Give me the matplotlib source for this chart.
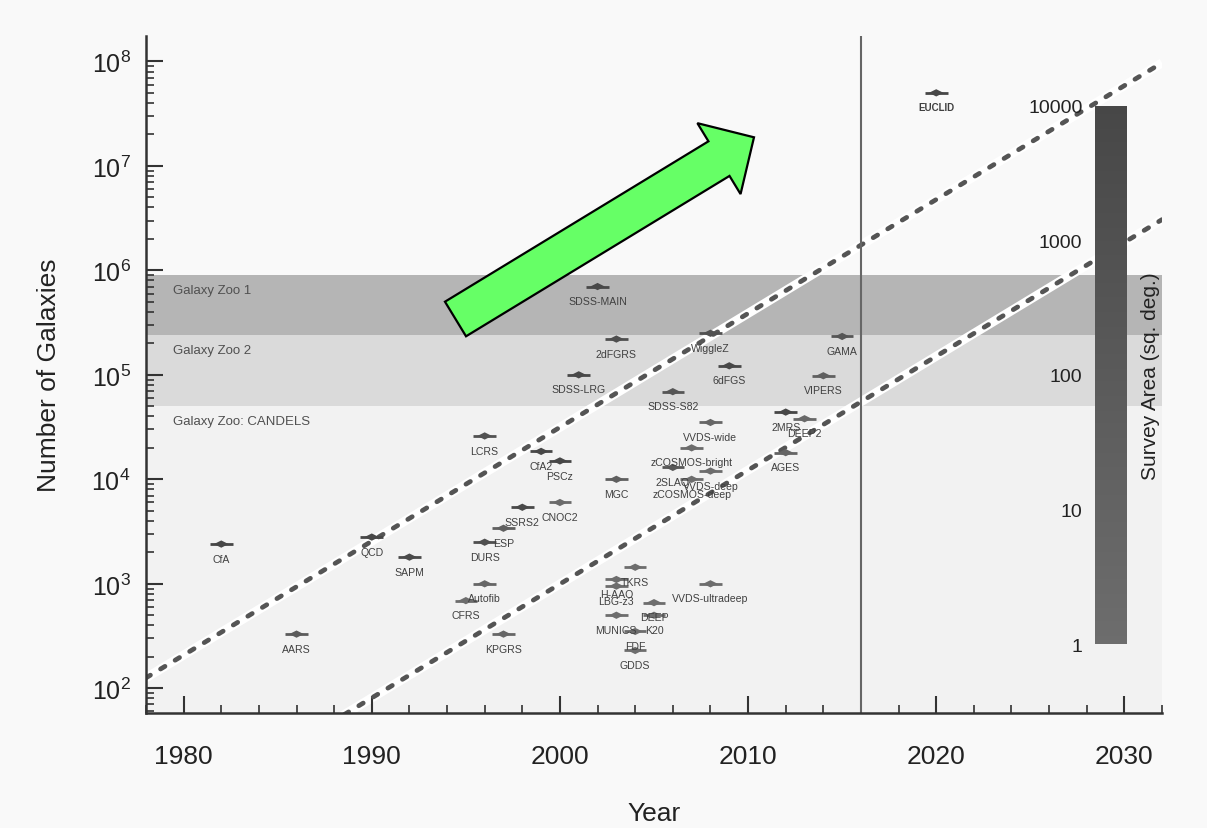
import numpy as np
import matplotlib
matplotlib.use("Agg")
import matplotlib.pyplot as plt
import matplotlib.patches as mpatches
from matplotlib.colors import LinearSegmentedColormap, LogNorm
from matplotlib.ticker import FixedLocator, FixedFormatter, MultipleLocator

plt.rcParams['font.family'] = ['Liberation Sans', 'DejaVu Sans']
plt.rcParams['mathtext.fontset'] = 'custom'
plt.rcParams['mathtext.rm'] = 'Liberation Sans'
plt.rcParams['mathtext.it'] = 'Liberation Sans:italic'
plt.rcParams['mathtext.bf'] = 'Liberation Sans:bold'

# redshift surveys: name, year, number of galaxies, survey area (sq. deg.)
names = ["CfA", "AARS", "QCD", "SAPM", "DURS", "Autofib", "CFRS", "LCRS",
         "ESP", "KPGRS", "SSRS2", "CfA2", "PSCz", "CNOC2", "SDSS-LRG",
         "SDSS-MAIN", "2dFGRS", "MGC", "H-AAO", "LBG-z3", "MUNICS", "TKRS",
         "FDF", "GDDS", "DEEP", "K20", "SDSS-S82", "2SLAQ", "zCOSMOS-bright",
         "zCOSMOS-deep", "WiggleZ", "VVDS-wide", "VVDS-deep", "VVDS-ultradeep",
         "6dFGS", "2MRS", "AGES", "DEEP2", "VIPERS", "GAMA", "EUCLID"]
years = [1982, 1986, 1990, 1992, 1996, 1996, 1995, 1996,
         1997, 1997, 1998, 1999, 2000, 2000, 2001,
         2002, 2003, 2003, 2003, 2003, 2003, 2004,
         2004, 2004, 2005, 2005, 2006, 2006, 2007,
         2007, 2008, 2008, 2008, 2008,
         2009, 2012, 2012, 2013, 2014, 2015, 2020]
counts = [2400, 330, 2800, 1800, 2500, 1000, 690, 26000,
          3400, 330, 5400, 18500, 15000, 6000, 100000,
          700000, 220000, 10000, 1100, 950, 500, 1440,
          350, 230, 660, 500, 69000, 13000, 20000,
          10000, 250000, 35000, 12000, 1000,
          122000, 44000, 18000, 38000, 98000, 233000, 5.0e7]
areas = [8900, 60, 10000, 4300, 1500, 5, 1, 700,
         23, 5, 5500, 17000, 34000, 1.5, 8000,
         8000, 1500, 30, 1, 1, 1, 1,
         1, 1, 1, 1, 270, 180, 1.7,
         1, 1000, 6, 1, 1,
         17000, 40000, 8, 3, 24, 280, 15000]

# Galaxy Zoo projects: label, lower and upper number of galaxies
zoo_labels = ["Galaxy Zoo 1", "Galaxy Zoo 2", "Galaxy Zoo: CANDELS"]
zoo_low = [2.4e5, 5.0e4, 1.0]
zoo_high = [9.0e5, 2.4e5, 5.0e4]
zoo_colors = ["#b5b5b5", "#dadada", "#f2f2f2"]

# exponential growth trend lines: log10(N) at 1978 and decades per year
trend_start = [2.10, 0.60]
trend_slope = 0.109
trend_years = [1978, 2032]

area_ticks = [1, 10, 100, 1000, 10000]

fig = plt.figure(figsize=(12.07, 8.29), dpi=100, facecolor="#f9f9f9")
ax = fig.add_axes([146 / 1207, 1 - 714 / 829, 1016 / 1207, 677 / 829])
ax.set_facecolor("#f9f9f9")
ax.set_yscale("log")
ax.set_xlim(1978, 2032)
ax.set_ylim(58, 1.75e8)

for lab, lo, hi, col in zip(zoo_labels, zoo_low, zoo_high, zoo_colors):
    ax.axhspan(lo, hi, color=col, lw=0, zorder=0)
    ax.annotate(lab, (1978, hi), xytext=(19.5, -10.8), textcoords="offset points",
                ha="left", va="center", fontsize=9.5, color="#505050")

tx = np.array(trend_years, dtype=float)
for start in trend_start:
    ty = 10 ** (start + trend_slope * (tx - trend_years[0]))
    ax.plot(tx, ty, color="white", lw=6.5, solid_capstyle="butt", zorder=1)
    ax.plot(tx, ty, color="#555555", lw=3.4, ls=(0, (1.1, 2.5)),
            dash_capstyle="round", zorder=2)

ax.axvline(2016, color="#666666", lw=1.5, zorder=2)

cmap = LinearSegmentedColormap.from_list("area", ["#6d6d6d", "#474747"])
norm = LogNorm(vmin=1, vmax=1e4, clip=True)

yr = np.array(years, dtype=float)
ct = np.array(counts, dtype=float)
ar = np.clip(np.array(areas, dtype=float), 1, 1e4)
diamond = [(-1, 0), (0, 0.5), (1, 0), (0, -0.5), (-1, 0)]
ax.hlines(ct, yr - 0.6, yr + 0.6, colors=cmap(norm(ar)), lw=2.0, zorder=3)
ax.scatter(yr, ct, c=ar, cmap=cmap, norm=norm, marker=diamond, s=110,
           linewidths=0, zorder=4)
for nm, x, y in zip(names, years, counts):
    bold = nm == "EUCLID"
    ax.annotate(nm, (x, y), xytext=(0, -10.5), textcoords="offset points",
                ha="center", va="center", fontsize=7 if bold else 7.6,
                fontweight="bold" if bold else "normal", color="#404040",
                zorder=5)

for side in ["top", "right"]:
    ax.spines[side].set_visible(False)
for side in ["left", "bottom"]:
    ax.spines[side].set_linewidth(1.8)
    ax.spines[side].set_color("#333333")

ax.xaxis.set_major_locator(MultipleLocator(10))
ax.xaxis.set_minor_locator(MultipleLocator(2))
ax.tick_params(axis="both", which="major", direction="in", length=12, width=1.5,
               color="#333333", labelcolor="#222222")
ax.tick_params(axis="both", which="minor", direction="in", length=6, width=1.2,
               color="#333333")
ax.tick_params(axis="x", which="major", labelsize=19, pad=22)
ax.tick_params(axis="y", which="major", labelsize=18, pad=11)
ax.set_xlabel("Year", fontsize=19, color="#222222", labelpad=24)
ax.set_ylabel("Number of Galaxies", fontsize=19, color="#222222", labelpad=22)

# colour bar for survey area
cax = fig.add_axes([1095 / 1207, 1 - 645 / 829, 32 / 1207, 538 / 829])
sm = plt.cm.ScalarMappable(norm=norm, cmap=cmap)
cb = fig.colorbar(sm, cax=cax)
cb.outline.set_visible(False)
cax.minorticks_off()
cax.yaxis.set_major_locator(FixedLocator(area_ticks))
cax.yaxis.set_major_formatter(FixedFormatter([str(t) for t in area_ticks]))
cax.yaxis.set_ticks_position("left")
cax.yaxis.set_label_position("right")
cax.tick_params(length=0, pad=9, labelsize=14, labelcolor="#222222")
cb.set_label("Survey Area (sq. deg.)", fontsize=15, color="#222222", labelpad=10)

# trend arrow, laid out in inches (pixels / 100)
arrow_tail = (455.5, 320.0)
arrow_tip = (754.0, 138.3)
arrow = mpatches.FancyArrow(arrow_tail[0] / 100, (829 - arrow_tail[1]) / 100,
                            (arrow_tip[0] - arrow_tail[0]) / 100,
                            (arrow_tail[1] - arrow_tip[1]) / 100,
                            width=0.405, head_width=0.83, head_length=0.41,
                            length_includes_head=True, facecolor="#66ff66",
                            edgecolor="black", lw=1.6,
                            transform=fig.dpi_scale_trans, zorder=10)
fig.patches.append(arrow)

fig.savefig("out.png", dpi=100, facecolor=fig.get_facecolor())
